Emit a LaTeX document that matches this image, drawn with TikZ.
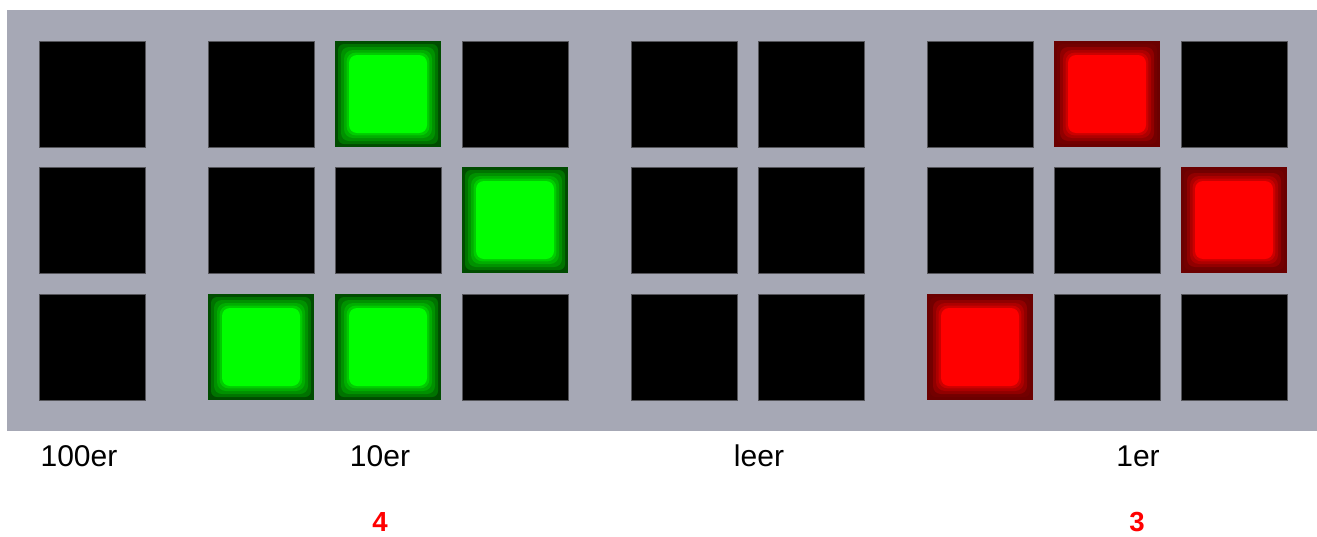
\documentclass[tikz,border=0pt]{standalone}
\usepackage{fontspec}
\setmainfont{Liberation Sans}
\usepackage{xcolor}
\usepackage{tikz}
\usetikzlibrary{calc}
\definecolor{rahmenGrau}{RGB}{166, 168, 181}
\definecolor{feldRand}{RGB}{85, 85, 90}
\definecolor{gruenHell}{RGB}{0, 255, 0}
\definecolor{rotHell}{RGB}{255, 0, 0}
\definecolor{rotZahl}{RGB}{255, 0, 0}

% leuchtendes Feld: Ringe von dunkel (aussen) nach hell (innen)
\newcommand{\glimm}[1]{%
  \foreach \ab/\pz/\rd in {1.5/45/3, 3/57/4, 4.5/68/4.5, 5.8/80/4.5, 7/100/4} {
    \fill[#1!\pz!black, rounded corners=\rd pt]
      ($(path picture bounding box.south west)+(\ab pt,\ab pt)$) rectangle
      ($(path picture bounding box.north east)-(\ab pt,\ab pt)$);
  }}

\begin{document}
\begin{tikzpicture}[x=0.5pt, y=-0.5pt,
  feld/.style={rectangle, draw=feldRand, line width=0.4pt, fill=black,
    minimum size=53pt, inner sep=0pt},
  gruen/.style={draw=none, fill=gruenHell!30!black,
    path picture={\glimm{gruenHell}}},
  rot/.style={draw=none, fill=rotHell!42!black,
    path picture={\glimm{rotHell}}},
  stelle/.style={font=\fontsize{15}{18}\selectfont, text=black},
  wert/.style={font=\fontsize{13.8}{16}\selectfont\bfseries, text=rotZahl},
  % eingeschaltete Felder
  z31/.style={gruen}, z42/.style={gruen}, z23/.style={gruen}, z33/.style={gruen},
  z81/.style={rot}, z92/.style={rot}, z73/.style={rot},
]
\useasboundingbox (0,0) rectangle (1317,536);
\fill[white] (0,0) rectangle (1317,536);
\fill[rahmenGrau] (7,10) rectangle (1317,431);

% 3x9 Felder
\foreach \x [count=\c] in {92,261,388,515,684,811,980,1107,1234}
  \foreach \y [count=\r] in {94,220,347}
    \node[feld, z\c\r/.try] (f\c\r) at (\x,\y) {};

% Beschriftung
\node[stelle] (lHundert) at (79,456)   {100er};
\node[stelle] (lZehn)    at (380,456)  {10er};
\node[stelle] (lLeer)    at (759,456)  {leer};
\node[stelle] (lEins)    at (1138,456) {1er};
\node[wert]   (wZehn)    at (380,522)  {4};
\node[wert]   (wEins)    at (1137,522) {3};
\end{tikzpicture}
\end{document}
